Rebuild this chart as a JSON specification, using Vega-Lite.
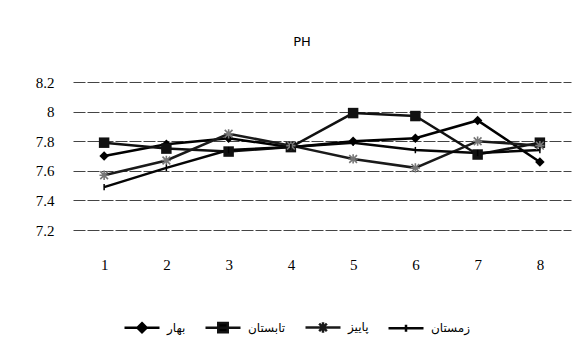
{
  "$schema": "https://vega.github.io/schema/vega-lite/v6.json",
  "autosize": {"type": "none"},
  "width": 498,
  "height": 148,
  "padding": {"left": 73, "top": 82, "right": 14, "bottom": 123},
  "background": "white",
  "title": {"text": "PH", "font": "DejaVu Sans", "fontSize": 13, "fontWeight": "normal", "color": "#000", "dx": -20, "offset": 16, "baseline": "alphabetic"},
  "config": {
    "view": {"stroke": null},
    "axis": {"labelFont": "Liberation Serif", "labelFontSize": 15, "labelColor": "#000"}
  },
  "data": {"values": [
    {"x": 1, "s": "بهار", "v": 7.70}, {"x": 2, "s": "بهار", "v": 7.78}, {"x": 3, "s": "بهار", "v": 7.82}, {"x": 4, "s": "بهار", "v": 7.76},
    {"x": 5, "s": "بهار", "v": 7.80}, {"x": 6, "s": "بهار", "v": 7.82}, {"x": 7, "s": "بهار", "v": 7.94}, {"x": 8, "s": "بهار", "v": 7.66},
    {"x": 1, "s": "تابستان", "v": 7.79}, {"x": 2, "s": "تابستان", "v": 7.75}, {"x": 3, "s": "تابستان", "v": 7.73}, {"x": 4, "s": "تابستان", "v": 7.76},
    {"x": 5, "s": "تابستان", "v": 7.99}, {"x": 6, "s": "تابستان", "v": 7.97}, {"x": 7, "s": "تابستان", "v": 7.71}, {"x": 8, "s": "تابستان", "v": 7.79},
    {"x": 1, "s": "پاییز", "v": 7.57}, {"x": 2, "s": "پاییز", "v": 7.67}, {"x": 3, "s": "پاییز", "v": 7.85}, {"x": 4, "s": "پاییز", "v": 7.77},
    {"x": 5, "s": "پاییز", "v": 7.68}, {"x": 6, "s": "پاییز", "v": 7.62}, {"x": 7, "s": "پاییز", "v": 7.80}, {"x": 8, "s": "پاییز", "v": 7.77},
    {"x": 1, "s": "زمستان", "v": 7.49}, {"x": 2, "s": "زمستان", "v": 7.62}, {"x": 3, "s": "زمستان", "v": 7.74}, {"x": 4, "s": "زمستان", "v": 7.76},
    {"x": 5, "s": "زمستان", "v": 7.79}, {"x": 6, "s": "زمستان", "v": 7.74}, {"x": 7, "s": "زمستان", "v": 7.72}, {"x": 8, "s": "زمستان", "v": 7.74}
  ]},
  "encoding": {
    "x": {"field": "x", "type": "ordinal", "scale": {"type": "point", "padding": 0.5},
      "axis": {"title": null, "labelAngle": 0, "domain": false, "ticks": false, "labelPadding": 27}},
    "y": {"field": "v", "type": "quantitative", "scale": {"domain": [7.2, 8.2], "nice": false, "zero": false},
      "axis": {"title": null, "values": [7.2, 7.4, 7.6, 7.8, 8, 8.2], "format": "~g", "domain": false, "ticks": false, "labelPadding": 19,
        "gridColor": "#444", "gridOpacity": 1, "gridWidth": 1, "gridDash": [12, 2]}}
  },
  "layer": [
    {
      "mark": {"type": "line", "strokeWidth": 2.5},
      "encoding": {
        "color": {"field": "s", "type": "nominal",
          "scale": {"domain": ["بهار", "تابستان", "پاییز", "زمستان"], "range": ["#000", "#111", "#1a1a1a", "#050505"]},
          "legend": {"title": null, "orient": "none", "legendX": 50, "legendY": 226, "direction": "horizontal",
            "labelFont": "DejaVu Sans", "labelFontSize": 12, "labelColor": "#000", "symbolSize": 1225, "labelOffset": 6, "columnPadding": 14,
            "symbolStrokeWidth": 2.5,
            "encode": {"symbols": {"update": {
              "shape": {"signal": "datum.value === 'بهار' ? 'M-1,0L1,0M0,-0.26L0.26,0L0,0.26L-0.26,0Z' : datum.value === 'تابستان' ? 'M-1,0L1,0M-0.27,-0.27L0.27,-0.27L0.27,0.27L-0.27,0.27Z' : datum.value === 'پاییز' ? 'M-1,0L1,0M-0.22,-0.22L0.22,0.22M-0.22,0.22L0.22,-0.22M0,-0.3L0,0.3' : 'M-1,0L1,0M0,-0.2L0,0.2'"},
              "fill": {"value": "#000"},
              "stroke": {"value": "#000"},
              "strokeWidth": {"value": 2.5}
            }}}}
        },
        "detail": {"field": "s"}
      }
    },
    {
      "transform": [{"filter": "datum.s === 'بهار'"}],
      "mark": {"type": "point", "filled": true, "opacity": 1, "shape": "diamond", "size": 90, "color": "#000"}
    },
    {
      "transform": [{"filter": "datum.s === 'تابستان'"}],
      "mark": {"type": "point", "filled": true, "opacity": 1, "shape": "square", "size": 110, "color": "#111"}
    },
    {
      "transform": [{"filter": "datum.s === 'پاییز'"}],
      "mark": {"type": "point", "filled": false, "opacity": 1, "shape": "M-1,-1L1,1M-1,1L1,-1M0,-1.2L0,1.2M-1.2,0L1.2,0", "size": 60, "stroke": "#777", "strokeWidth": 1.6}
    },
    {
      "transform": [{"filter": "datum.s === 'زمستان'"}],
      "mark": {"type": "point", "filled": false, "opacity": 1, "shape": "M0,-1L0,1", "size": 40, "stroke": "#000", "strokeWidth": 1.5}
    }
  ]
}
